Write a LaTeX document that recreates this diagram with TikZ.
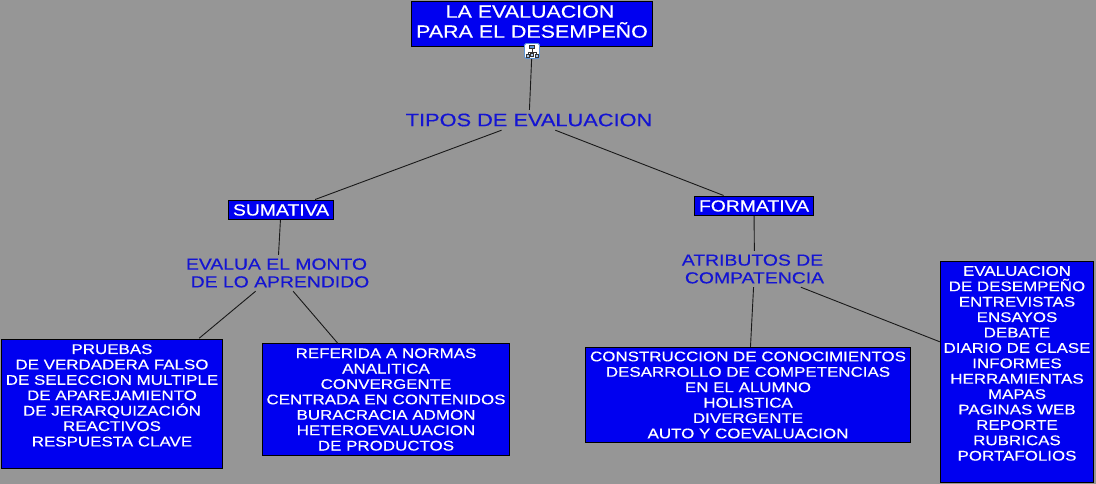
\documentclass[tikz,border=0pt]{standalone}
\usepackage{fontspec}
\setmainfont[FakeStretch=1.21,FakeBold=0.35]{Liberation Sans}
\usetikzlibrary{positioning}
\definecolor{fondo}{HTML}{969696}
\definecolor{azul}{HTML}{0000F0}
\definecolor{enlace}{HTML}{1414D2}
\definecolor{marco}{HTML}{5C94D6}
\tikzset{
  caja/.style={draw=black, line width=0.8pt, fill=azul, text=white, align=center, inner sep=0pt, font=\fontsize{14}{15.4}\selectfont},
  frase/.style={text=enlace, align=center, inner sep=0pt, font=\fontsize{16}{17.8}\selectfont},
  linea/.style={draw=black!90, line width=0.9pt}
}
\begin{document}
\begin{tikzpicture}[x=1pt, y=-1pt]
  \useasboundingbox[fill=fondo] (0,0) rectangle (1096,484);

  \node[caja, minimum width=241.5pt, minimum height=45.5pt, font=\fontsize{17.7}{20}\selectfont] (titulo) at (532,24) {LA EVALUACION\hspace{4pt}\null\\PARA EL DESEMPEÑO\\[-15pt]~};
  \node[draw=marco, line width=0.8pt, fill=white, rounded corners=1.5pt, minimum size=15pt, inner sep=0pt] (icono) at (532,51) {};
  \node[frase, minimum width=246pt, minimum height=20pt, font=\fontsize{18}{20}\selectfont] (tipos) at (529,120) {TIPOS DE EVALUACION};

  \node[caja, minimum width=105pt, minimum height=19.5pt, font=\fontsize{16}{18}\selectfont] (sumativa) at (281,210) {SUMATIVA};
  \node[caja, minimum width=119.5pt, minimum height=19.5pt, font=\fontsize{16}{18}\selectfont] (formativa) at (754,206) {FORMATIVA};

  \node[frase, minimum width=182pt, minimum height=36pt] (monto) at (277.5,273) {EVALUA EL MONTO\hspace{2pt}\null\\\hspace{5pt}DE LO APRENDIDO};
  \node[frase, minimum width=143pt, minimum height=36pt] (atributos) at (754.5,269) {ATRIBUTOS DE\hspace{4pt}\null\\COMPATENCIA};

  \node[caja, minimum width=221.5pt, minimum height=129.5pt] (pruebas) at (112,404) {PRUEBAS\\DE VERDADERA FALSO\\DE SELECCION MULTIPLE\\DE APAREJAMIENTO\\DE JERARQUIZACIÓN\\REACTIVOS\\RESPUESTA CLAVE\\[2pt]~};
  \node[caja, minimum width=247.5pt, minimum height=111.5pt] (normas) at (386,399.5) {REFERIDA A NORMAS\\ANALITICA\\CONVERGENTE\\CENTRADA EN CONTENIDOS\\BURACRACIA ADMON\\HETEROEVALUACION\\DE PRODUCTOS};
  \node[caja, minimum width=325.5pt, minimum height=95.5pt] (construccion) at (748,395) {CONSTRUCCION DE CONOCIMIENTOS\\DESARROLLO DE COMPETENCIAS\\EN EL ALUMNO\\HOLISTICA\\DIVERGENTE\\AUTO Y COEVALUACION};
  \node[caja, minimum width=153.5pt, minimum height=221.5pt] (desempeno) at (1017,372) {EVALUACION\\DE DESEMPEÑO\\ENTREVISTAS\\ENSAYOS\\DEBATE\\DIARIO DE CLASE\\INFORMES\\HERRAMIENTAS\\MAPAS\\PAGINAS WEB\\REPORTE\\RUBRICAS\\PORTAFOLIOS\\[2pt]~};

  \draw[linea] (icono) -- (tipos);
  \draw[linea, shorten >=1pt] (tipos) -- (sumativa.17);
  \draw[linea, shorten >=1pt] (tipos) -- (formativa.161);
  \draw[linea] (sumativa) -- (monto);
  \draw[linea] (formativa) -- (atributos);
  \draw[linea, shorten >=1pt] (monto) -- (pruebas.37);
  \draw[linea] (monto) -- (normas);
  \draw[linea] (atributos) -- (construccion);
  \draw[linea] (atributos) -- (desempeno);

  \begin{scope}[shift={(icono.center)}, line width=0.6pt, draw=black!80]
    \draw (0,-3) -- (0,2) (-4,1) -- (4,1) (-4,1) -- (-4,3) (4,1) -- (4,3);
    \draw[fill=marco] (-2.5,-6) rectangle (2.5,-3);
    \draw[fill=marco!50] (-6,3) rectangle (-3,6);
    \draw[fill=marco!50] (-1.5,2) rectangle (1.5,5);
    \draw[fill=marco!50] (3,3) rectangle (6,6);
  \end{scope}
\end{tikzpicture}
\end{document}
